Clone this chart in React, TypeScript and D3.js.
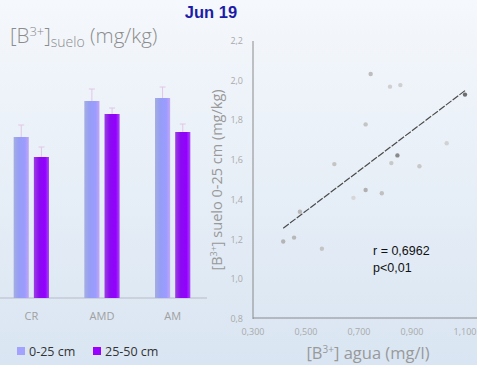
import * as d3 from 'd3';
import React from 'react';

// bar chart: mean soil boron by site and depth
const sites = ['CR', 'AMD', 'AM'];
const depths = ['0-25 cm', '25-50 cm'];
const meanTop = [1.61, 1.97, 2.0];
const meanBottom = [1.41, 1.84, 1.66];
const errTop = [0.12, 0.12, 0.11];
const errBottom = [0.1, 0.06, 0.08];

// scatter: boron in water vs soil 0-25 cm
const waterB = [0.744, 0.817, 0.856, 0.725, 1.1, 1.031, 0.607, 0.822, 0.845, 0.928, 0.725, 0.679, 0.786, 0.477, 0.414, 0.455, 0.56];
const soilB = [2.034, 1.97, 1.978, 1.78, 1.93, 1.685, 1.58, 1.585, 1.624, 1.569, 1.45, 1.41, 1.433, 1.34, 1.19, 1.21, 1.154];
const pointShade = ['#bdbdbd', '#cfcfcf', '#cfcfcf', '#c4c4c4', '#6e6e6e', '#d2d2d2', '#c4c4c4', '#c8c8c8', '#8a8a8a', '#c8c8c8', '#b0b0b0', '#d6d6d6', '#c0c0c0', '#b8b8b8', '#b4b4b4', '#b8b8b8', '#c4c4c4'];
const yTicks = [0.8, 1.0, 1.2, 1.4, 1.6, 1.8, 2.0, 2.2];
const xTicks = [0.3, 0.5, 0.7, 0.9, 1.1];
const fitSlope = 1.01;
const fitIntercept = 0.839;
const fitRange = [0.414, 1.1];

const fmt = (v: number, d: number) => v.toFixed(d).replace('.', ',');

export default function App() {
  const W = 477;
  const H = 365;

  // bar chart scales
  const x0 = d3.scaleBand<string>().domain(sites).range([-4, 208]).paddingInner(0.5).paddingOuter(0.25);
  const x1 = d3.scaleBand<string>().domain(depths).range([0, x0.bandwidth()]).paddingInner(0.25);
  const yb = d3.scaleLinear().domain([0, 2]).range([298, 98]);
  const base = yb(0);

  // scatter scales
  const sx = d3.scaleLinear().domain([0.3, 1.1]).range([253, 465]);
  const sy = d3.scaleLinear().domain([0.8, 2.2]).range([319, 41]);
  const fitLine = d3.line<number>().x(d => sx(d)).y(d => sy(fitIntercept + fitSlope * d));

  const barColors = ['url(#gTop)', 'url(#gBot)'];
  const legendColors = ['#a3a3ff', '#9900ff'];

  return (
    <svg width={W} height={H} style={{ position: 'absolute', left: 0, top: 0 }} fontFamily="'Open Sans', sans-serif">
      <defs>
        <linearGradient id="bg" x1="0" y1="0" x2="0" y2="1">
          <stop offset="0" stopColor="#f5f8fc" />
          <stop offset="1" stopColor="#d9e5f2" />
        </linearGradient>
        <linearGradient id="gTop" x1="0" y1="0" x2="1" y2="0">
          <stop offset="0" stopColor="#a4aee0" />
          <stop offset="0.35" stopColor="#959df6" />
          <stop offset="0.75" stopColor="#9c9cff" />
          <stop offset="1" stopColor="#c3a6f4" />
        </linearGradient>
        <linearGradient id="gBot" x1="0" y1="0" x2="1" y2="0">
          <stop offset="0" stopColor="#9a3ee0" />
          <stop offset="0.35" stopColor="#8a0cf0" />
          <stop offset="0.75" stopColor="#9300ff" />
          <stop offset="1" stopColor="#a94af2" />
        </linearGradient>
      </defs>
      <rect width={W} height={H} fill="url(#bg)" />

      <text x={211} y={18} fontFamily="Arial, 'Liberation Sans', sans-serif" fontWeight="bold" fontSize={16.5} fill="#1c1ca8" textAnchor="middle">Jun 19</text>

      {/* bar chart title */}
      <text x={10} y={43} fontSize={20.5} fill="#8c8c8c" fontWeight={300}>
        [B<tspan fontSize={13} dy={-7}>3+</tspan>
        <tspan dy={7}>]</tspan>
        <tspan fontSize={14} dy={4}>suelo</tspan>
        <tspan dy={-4}> (mg/kg)</tspan>
      </text>

      <line x1={0} x2={207} y1={base} y2={base} stroke="#b9b9c9" strokeWidth={1} />
      {sites.map((s, i) => {
        const vals = [meanTop[i], meanBottom[i]];
        const errs = [errTop[i], errBottom[i]];
        return (
          <g key={s} transform={`translate(${x0(s)},0)`}>
            {depths.map((d, j) => {
              const bx = x1(d)!;
              const bw = x1.bandwidth();
              const cx = bx + bw / 2;
              return (
                <g key={d}>
                  <line x1={cx} x2={cx} y1={yb(vals[j])} y2={yb(vals[j] + errs[j])} stroke="#e2c6e6" strokeWidth={1} />
                  <line x1={cx - 3} x2={cx + 3} y1={yb(vals[j] + errs[j])} y2={yb(vals[j] + errs[j])} stroke="#e2c6e6" strokeWidth={1} />
                  <rect x={bx} y={yb(vals[j])} width={bw} height={base - yb(vals[j])} fill={barColors[j]} />
                </g>
              );
            })}
            <text x={x0.bandwidth() / 2} y={320} fontSize={11} fill="#a0a0a0" textAnchor="middle">{s}</text>
          </g>
        );
      })}

      {/* legend */}
      {depths.map((d, j) => (
        <g key={d} transform={`translate(${j === 0 ? 17 : 93},347)`}>
          <rect width={8} height={8} fill={legendColors[j]} />
          <text x={12} y={8.5} fontSize={12.5} fill="#333">{d}</text>
        </g>
      ))}

      {/* scatter */}
      <line x1={253} x2={253} y1={sy(2.2)} y2={sy(0.8)} stroke="#8a8a8a" strokeWidth={1} />
      <line x1={253} x2={W} y1={sy(0.8) - 1} y2={sy(0.8) - 1} stroke="#8a8a8a" strokeWidth={1} />
      {yTicks.map(t => (
        <text key={t} x={243} y={sy(t) + 3} fontSize={9} fill="#aaa" textAnchor="end">{fmt(t, 1)}</text>
      ))}
      {xTicks.map(t => (
        <text key={t} x={sx(t)} y={335} fontSize={9} fill="#aaa" textAnchor="middle">{fmt(t, 3)}</text>
      ))}
      <path d={fitLine(fitRange) || ''} fill="none" stroke="#4a4a4a" strokeWidth={1.2} strokeDasharray="7,1.5" />
      {waterB.map((v, i) => (
        <circle key={i} cx={sx(v)} cy={sy(soilB[i])} r={2.2} fill={pointShade[i]} />
      ))}
      <text x={373} y={255} fontFamily="Arial, 'Liberation Sans', sans-serif" fontSize={12.5} fill="#111">r = 0,6962</text>
      <text x={373} y={272} fontFamily="Arial, 'Liberation Sans', sans-serif" fontSize={12.5} fill="#111">p&lt;0,01</text>

      <text x={368} y={359} fontSize={16.5} fill="#999" textAnchor="middle">
        [B<tspan fontSize={10} dy={-6}>3+</tspan><tspan dy={6}>] agua (mg/l)</tspan>
      </text>
      <text transform="translate(222,180) rotate(-90)" fontSize={14.5} fill="#999" textAnchor="middle">
        [B<tspan fontSize={9} dy={-5}>3+</tspan><tspan dy={5}>] suelo 0-25 cm (mg/kg)</tspan>
      </text>
    </svg>
  );
}
